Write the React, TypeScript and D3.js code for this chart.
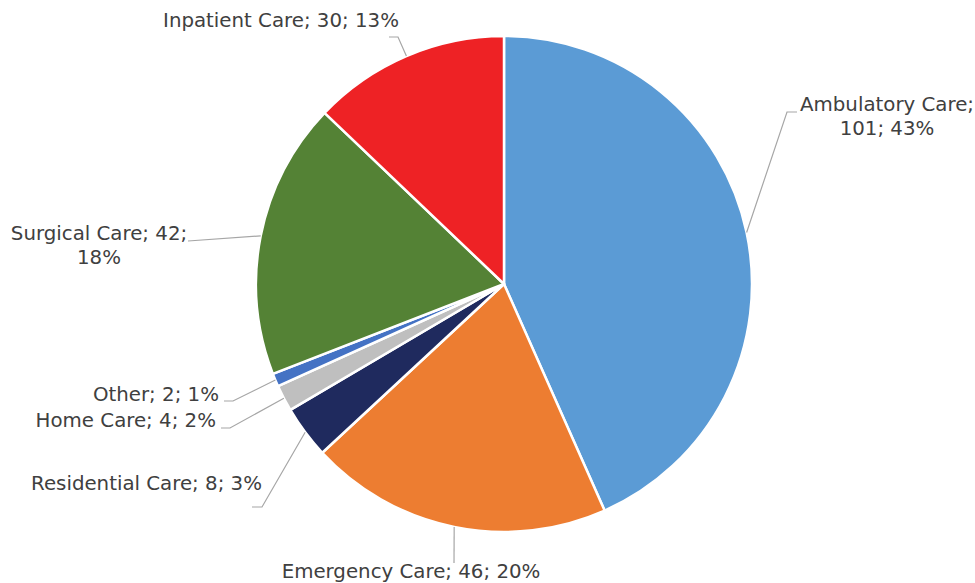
import React from "react";
import * as d3 from "d3";

const categories = [
  "Ambulatory Care",
  "Emergency Care",
  "Residential Care",
  "Home Care",
  "Other",
  "Surgical Care",
  "Inpatient Care",
];
const values = [101, 46, 8, 4, 2, 42, 30];
const percentLabels = ["43%", "20%", "3%", "2%", "1%", "18%", "13%"];
const colors = ["#5B9BD5", "#ED7D31", "#1F2A5E", "#BFBFBF", "#4472C4", "#548235", "#EE2225"];

// label layout: elbow, end of leader, text lines with anchor positions
const labelLayout = [
  { elbow: [787, 112], end: [797, 112], lines: [["Ambulatory Care;", 887, 111], ["101; 43%", 887, 135]] },
  { elbow: [454, 563], end: [454, 563], lines: [["Emergency Care; 46; 20%", 411, 578]] },
  { elbow: [262, 507], end: [252, 507], lines: [["Residential Care; 8; 3%", 262, 490, "end"]] },
  { elbow: [230, 428], end: [221, 428], lines: [["Home Care; 4; 2%", 216, 427, "end"]] },
  { elbow: [233, 401], end: [224, 401], lines: [["Other; 2; 1%", 219, 401, "end"]] },
  { elbow: [188, 241], end: [188, 241], lines: [["Surgical Care; 42;", 99, 240], ["18%", 99, 264]] },
  { elbow: [398, 37], end: [389, 37], lines: [["Inpatient Care; 30; 13%", 281, 27]] },
];

const W = 975;
const H = 583;
const cx = 504;
const cy = 284;
const R = 248;

export default function App() {
  const pie = d3.pie<number>().sort(null).value((d) => d)(values);
  const arc = d3.arc<d3.PieArcDatum<number>>().innerRadius(0).outerRadius(R);
  const edge = (a: number): [number, number] => [cx + R * Math.sin(a), cy - R * Math.cos(a)];
  return (
    <svg
      width={W}
      height={H}
      style={{ position: "absolute", left: 0, top: 0, background: "#fff" }}
      fontFamily="'DejaVu Sans', Verdana, sans-serif"
    >
      <g transform={`translate(${cx},${cy})`}>
        {pie.map((p, i) => (
          <path key={categories[i]} d={arc(p) || ""} fill={colors[i]} stroke="#fff" strokeWidth={2.5} strokeLinejoin="round" />
        ))}
      </g>
      {pie.map((p, i) => {
        const mid = (p.startAngle + p.endAngle) / 2;
        const [x0, y0] = edge(mid);
        const L = labelLayout[i];
        return (
          <g key={"l" + i}>
            <polyline
              points={`${x0},${y0} ${L.elbow[0]},${L.elbow[1]} ${L.end[0]},${L.end[1]}`}
              fill="none"
              stroke="#A6A6A6"
              strokeWidth={1.2}
            />
            {L.lines.map((ln: any, j: number) => (
              <text
                key={j}
                x={ln[1]}
                y={ln[2]}
                textAnchor={ln[3] || "middle"}
                fontSize={19.8}
                fill="#404040"
              >
                {ln[0]}
              </text>
            ))}
          </g>
        );
      })}
    </svg>
  );
}
